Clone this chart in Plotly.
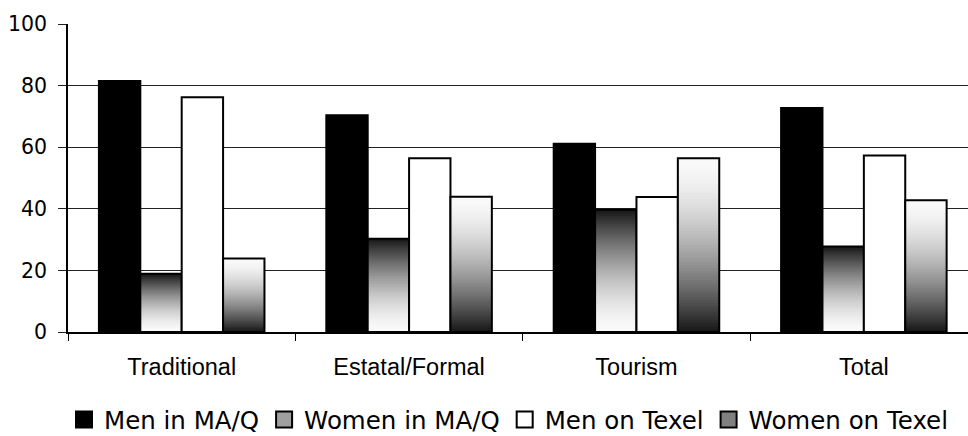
import plotly.graph_objects as go

categories = ["Traditional", "Estatal/Formal", "Tourism", "Total"]
men_maq = [81.5, 70.4, 61.1, 72.7]
women_maq = [18.9, 30.3, 39.7, 27.8]
men_texel = [76.2, 56.4, 43.8, 57.3]
women_texel = [23.9, 43.9, 56.4, 42.8]
series_names = ["Men in MA/Q", "Women in MA/Q", "Men on Texel", "Women on Texel"]
y_ticks = [0, 20, 40, 60, 80, 100]

BAR_W = 0.182
OFFSETS = [-0.364, -0.182, 0.0, 0.182]
N_SEG = 60
DARK, LIGHT, POW = 22, 250, 1.6
FONT_TXT = "DejaVu Sans"


def grey(v):
    v = int(round(v))
    return f"rgb({v},{v},{v})"


def gradient_trace(values, offset, dark_on_top):
    # each slice runs from its own base up to the bar's top; later (higher)
    # slices are painted over earlier ones, which gives a seamless gradient
    xs, bases, hs, cols = [], [], [], []
    for cat, v in zip(categories, values):
        step = v / N_SEG
        for k in range(N_SEG):
            t = (k + 0.5) / N_SEG  # 0 bottom -> 1 top
            d = (1 - t) if dark_on_top else t  # distance from dark end
            c = DARK + (LIGHT - DARK) * (1 - (1 - d) ** POW)
            xs.append(cat)
            bases.append(step * k)
            hs.append(v - step * k)
            cols.append(grey(c))
    return go.Bar(x=xs, y=hs, base=bases, offset=offset, width=BAR_W,
                  marker=dict(color=cols, line=dict(width=0)),
                  showlegend=False, hoverinfo="skip")


def outline_trace(values, offset, fill):
    return go.Bar(x=categories, y=values, offset=offset, width=BAR_W,
                  marker=dict(color=fill, line=dict(color="black", width=2)),
                  showlegend=False)


fig = go.Figure()
fig.add_trace(outline_trace(men_maq, OFFSETS[0], "black"))
fig.add_trace(gradient_trace(women_maq, OFFSETS[1], True))
fig.add_trace(outline_trace(women_maq, OFFSETS[1], "rgba(0,0,0,0)"))
fig.add_trace(outline_trace(men_texel, OFFSETS[2], "white"))
fig.add_trace(gradient_trace(women_texel, OFFSETS[3], False))
fig.add_trace(outline_trace(women_texel, OFFSETS[3], "rgba(0,0,0,0)"))

# legend entries
legend_fills = ["black", "#a0a0a0", "white", "#808080"]
for name, fill in zip(series_names, legend_fills):
    fig.add_trace(go.Scatter(x=[None], y=[None], name=name, mode="markers",
                             marker=dict(symbol="square", size=16, color=fill,
                                         line=dict(color="black", width=2))))

fig.update_layout(
    width=968, height=436, autosize=False,
    margin=dict(l=68, r=0, t=24, b=104, pad=0),
    paper_bgcolor="white", plot_bgcolor="white",
    barmode="overlay",
    showlegend=True,
    legend=dict(orientation="h", xref="container", yref="container",
                x=64 / 968, xanchor="left", y=1 - 419.5 / 436, yanchor="middle",
                font=dict(family=FONT_TXT, size=24.5, color="black"),
                traceorder="normal", itemclick=False, itemsizing="trace"),
    xaxis=dict(type="category", categoryorder="array", categoryarray=categories,
               range=[-0.5, 3.458], showline=True, linecolor="black", linewidth=1.5,
               showgrid=False, ticks="outside", tickson="boundaries", ticklen=7,
               tickcolor="black", tickwidth=1.3,
               tickfont=dict(family="Liberation Sans", size=23.5, color="black"),
               ticklabelstandoff=13, fixedrange=True, automargin=False),
    yaxis=dict(range=[0, 100], tickvals=y_ticks, showline=True, linecolor="black",
               linewidth=1.5, showgrid=True, gridcolor="#222222", gridwidth=1,
               ticks="outside", ticklen=8, tickcolor="#222222", tickwidth=1,
               tickfont=dict(family=FONT_TXT, size=20.5, color="black"),
               ticklabelstandoff=7, zeroline=False, fixedrange=True, automargin=False),
)

fig.write_html("out.html")
